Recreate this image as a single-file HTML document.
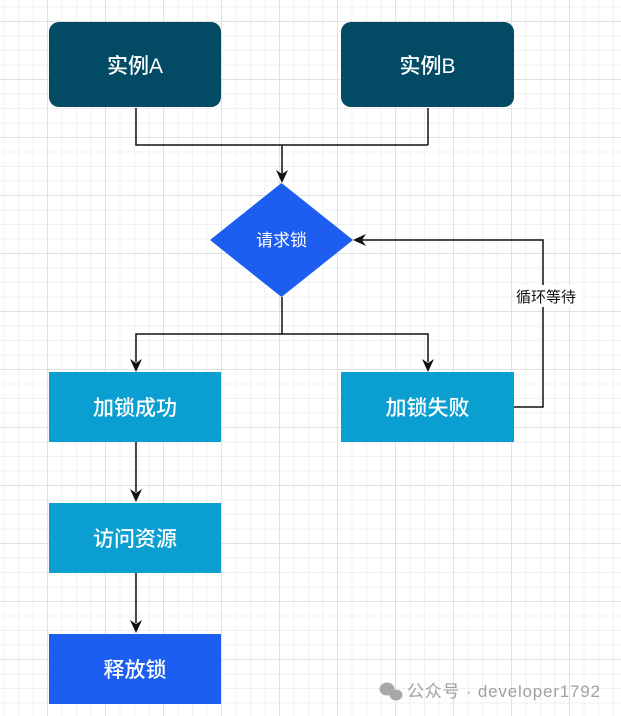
<!DOCTYPE html>
<html><head><meta charset="utf-8"><style>
html,body{margin:0;padding:0;}
body{width:621px;height:716px;position:relative;overflow:hidden;background-color:#fff;
background-image:
linear-gradient(to right,#e0e0e0 1px,transparent 1px),
linear-gradient(to bottom,#e0e0e0 1px,transparent 1px),
linear-gradient(to right,#f1f1f1 1px,transparent 1px),
linear-gradient(to bottom,#f1f1f1 1px,transparent 1px);
background-size:58px 58px,58px 58px,14.5px 14.5px,14.5px 14.5px;
background-position:47px 21px,47px 21px,3.5px 6.5px,3.5px 6.5px;
font-family:"Liberation Sans","Noto Sans CJK SC",sans-serif;}
.b{position:absolute;display:flex;align-items:center;justify-content:center;color:#fff;font-size:21px;font-weight:500;}
</style></head><body>
<div class="b" style="left:49px;top:22px;width:172px;height:85px;background:#034b65;border-radius:10px;">实例A</div>
<div class="b" style="left:341px;top:22px;width:173px;height:85px;background:#034b65;border-radius:10px;">实例B</div>
<div class="b" style="left:49px;top:372px;width:172px;height:70px;background:#0a9fd0;">加锁成功</div>
<div class="b" style="left:341px;top:372px;width:173px;height:70px;background:#0a9fd0;">加锁失败</div>
<div class="b" style="left:49px;top:503px;width:172px;height:70px;background:#0a9fd0;">访问资源</div>
<div class="b" style="left:49px;top:634px;width:172px;height:70px;background:#1c5ef2;">释放锁</div>
<svg width="621" height="716" style="position:absolute;left:0;top:0" xmlns="http://www.w3.org/2000/svg">
<polygon points="281.5,183 353,240 281.5,297 210,240" fill="#1d5ef0"/>
<text x="281.5" y="246" fill="#fff" font-size="17" text-anchor="middle" font-family="Liberation Sans,Noto Sans CJK SC,sans-serif">请求锁</text>
<g stroke="#111" stroke-width="1.5" fill="none">
<polyline points="136,108 136,145 428,145"/>
<line x1="428" y1="108" x2="428" y2="145"/>
<line x1="282" y1="145" x2="282" y2="174"/>
<polyline points="282,297 282,334"/>
<polyline points="136,362 136,334 428,334 428,362"/>
<polyline points="514,407 543,407 543,240 362,240"/>
<line x1="136" y1="442" x2="136" y2="492"/>
<line x1="136" y1="573" x2="136" y2="623"/>
</g>
<g fill="#111">
<polygon points="276,170 282,174 288,170 282,183"/>
<polygon points="130,359 136,363 142,359 136,372"/>
<polygon points="422,359 428,363 434,359 428,372"/>
<polygon points="366,234 362,240 366,246 353,240"/>
<polygon points="130,489 136,493 142,489 136,502"/>
<polygon points="130,620 136,624 142,620 136,633"/>
</g>
<rect x="512" y="285" width="70" height="22" fill="#fff"/>
<text x="546" y="302" fill="#111" font-size="15" text-anchor="middle" font-family="Liberation Sans,Noto Sans CJK SC,sans-serif">循环等待</text>
<g fill="#a8a8a8"><ellipse cx="387" cy="689" rx="7.5" ry="6.5"/><ellipse cx="396" cy="695" rx="6.5" ry="5.5"/></g>
<text x="407" y="697" fill="#a0a0a0" font-size="17" textLength="193" font-family="Liberation Sans,Noto Sans CJK SC,sans-serif">公众号 · developer1792</text>
</svg>
</body></html>
